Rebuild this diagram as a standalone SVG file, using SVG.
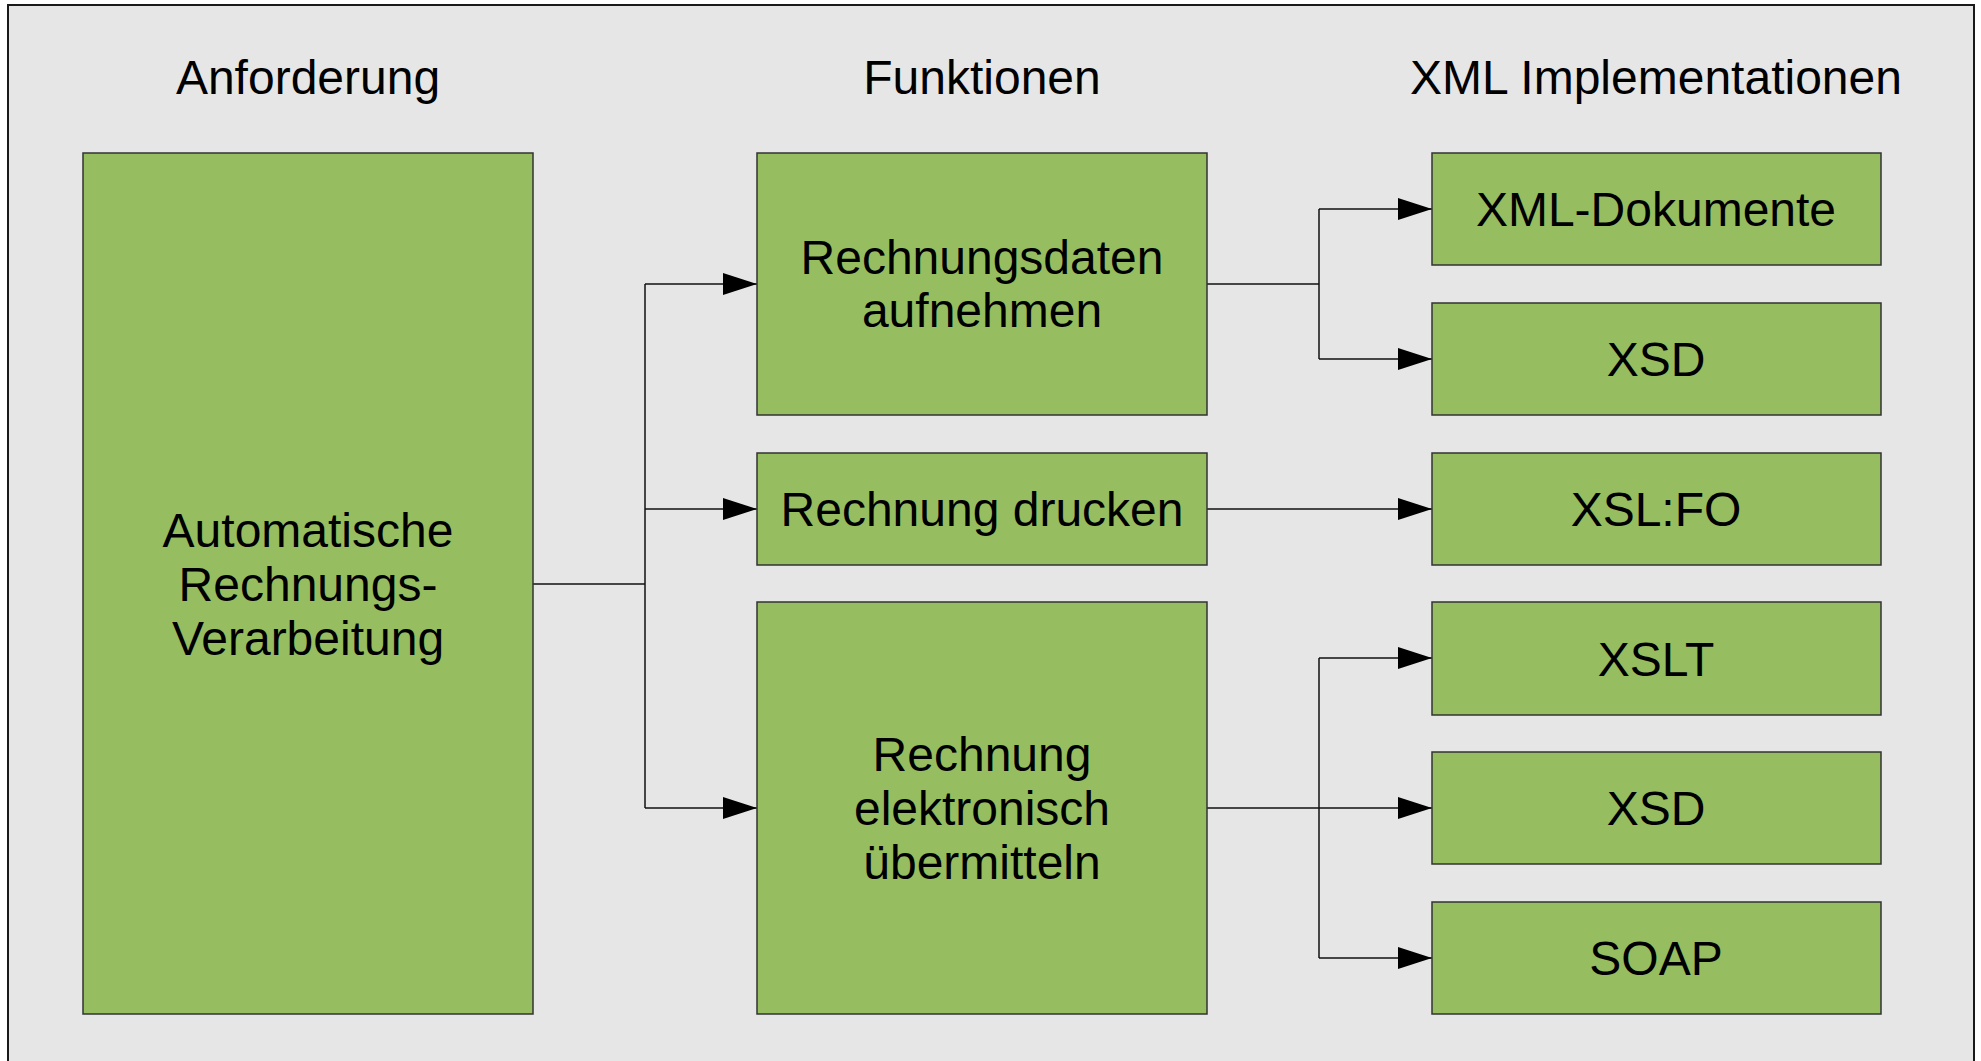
<svg xmlns="http://www.w3.org/2000/svg" width="1981" height="1061" viewBox="0 0 1981 1061">
  <style>
    .frame { fill: #e6e6e6; stroke: #1a1a1a; stroke-width: 2; }
    .box { fill: #96bd60; stroke: #333333; stroke-width: 1.5; }
    .head { font-family: "Liberation Sans", Arial, sans-serif; font-size: 48px; fill: #000; text-anchor: middle; }
    .lbl { font-family: "Liberation Sans", Arial, sans-serif; font-size: 48px; fill: #000; text-anchor: middle; }
    .wire { fill: none; stroke: #111; stroke-width: 1.5; }
    .arrow { fill: none; stroke: #111; stroke-width: 1.5; marker-end: url(#head); }
  </style>
  <defs>
    <marker id="head" markerUnits="userSpaceOnUse" markerWidth="34" markerHeight="22" refX="34" refY="11" orient="auto">
      <path d="M0,0 L34,11 L0,22 Z" fill="#000"/>
    </marker>
  </defs>

  <rect width="1981" height="1061" fill="#ffffff"/>
  <rect class="frame" x="8" y="5" width="1966" height="1070"/>

  <!-- column headings -->
  <g id="headings">
    <text class="head" x="308" y="94">Anforderung</text>
    <text class="head" x="982" y="94">Funktionen</text>
    <text class="head" x="1656" y="94">XML Implementationen</text>
  </g>

  <!-- connectors -->
  <g id="connectors">
    <path class="wire" d="M533,584 H645"/>
    <path class="wire" d="M645,284 V808"/>
    <path class="arrow" d="M645,284 H757"/>
    <path class="arrow" d="M645,509 H757"/>
    <path class="arrow" d="M645,808 H757"/>

    <path class="wire" d="M1207,284 H1319"/>
    <path class="wire" d="M1319,209 V359"/>
    <path class="arrow" d="M1319,209 H1432"/>
    <path class="arrow" d="M1319,359 H1432"/>

    <path class="arrow" d="M1207,509 H1432"/>

    <path class="wire" d="M1207,808 H1319"/>
    <path class="wire" d="M1319,658 V958"/>
    <path class="arrow" d="M1319,658 H1432"/>
    <path class="arrow" d="M1319,808 H1432"/>
    <path class="arrow" d="M1319,958 H1432"/>
  </g>

  <!-- requirement -->
  <g id="anforderung">
    <rect class="box" x="83" y="153" width="450" height="861"/>
    <text class="lbl" x="308" y="547">Automatische</text>
    <text class="lbl" x="308" y="601">Rechnungs-</text>
    <text class="lbl" x="308" y="655">Verarbeitung</text>
  </g>

  <!-- functions -->
  <g id="f-aufnehmen">
    <rect class="box" x="757" y="153" width="450" height="262"/>
    <text class="lbl" x="982" y="274">Rechnungsdaten</text>
    <text class="lbl" x="982" y="327">aufnehmen</text>
  </g>
  <g id="f-drucken">
    <rect class="box" x="757" y="453" width="450" height="112"/>
    <text class="lbl" x="982" y="526">Rechnung drucken</text>
  </g>
  <g id="f-uebermitteln">
    <rect class="box" x="757" y="602" width="450" height="412"/>
    <text class="lbl" x="982" y="771">Rechnung</text>
    <text class="lbl" x="982" y="825">elektronisch</text>
    <text class="lbl" x="982" y="879">übermitteln</text>
  </g>

  <!-- XML implementations -->
  <g id="i-xml-dokumente">
    <rect class="box" x="1432" y="153" width="449" height="112"/>
    <text class="lbl" x="1656" y="226">XML-Dokumente</text>
  </g>
  <g id="i-xsd-1">
    <rect class="box" x="1432" y="303" width="449" height="112"/>
    <text class="lbl" x="1656" y="376">XSD</text>
  </g>
  <g id="i-xslfo">
    <rect class="box" x="1432" y="453" width="449" height="112"/>
    <text class="lbl" x="1656" y="526">XSL:FO</text>
  </g>
  <g id="i-xslt">
    <rect class="box" x="1432" y="602" width="449" height="113"/>
    <text class="lbl" x="1656" y="676">XSLT</text>
  </g>
  <g id="i-xsd-2">
    <rect class="box" x="1432" y="752" width="449" height="112"/>
    <text class="lbl" x="1656" y="825">XSD</text>
  </g>
  <g id="i-soap">
    <rect class="box" x="1432" y="902" width="449" height="112"/>
    <text class="lbl" x="1656" y="975">SOAP</text>
  </g>
</svg>
